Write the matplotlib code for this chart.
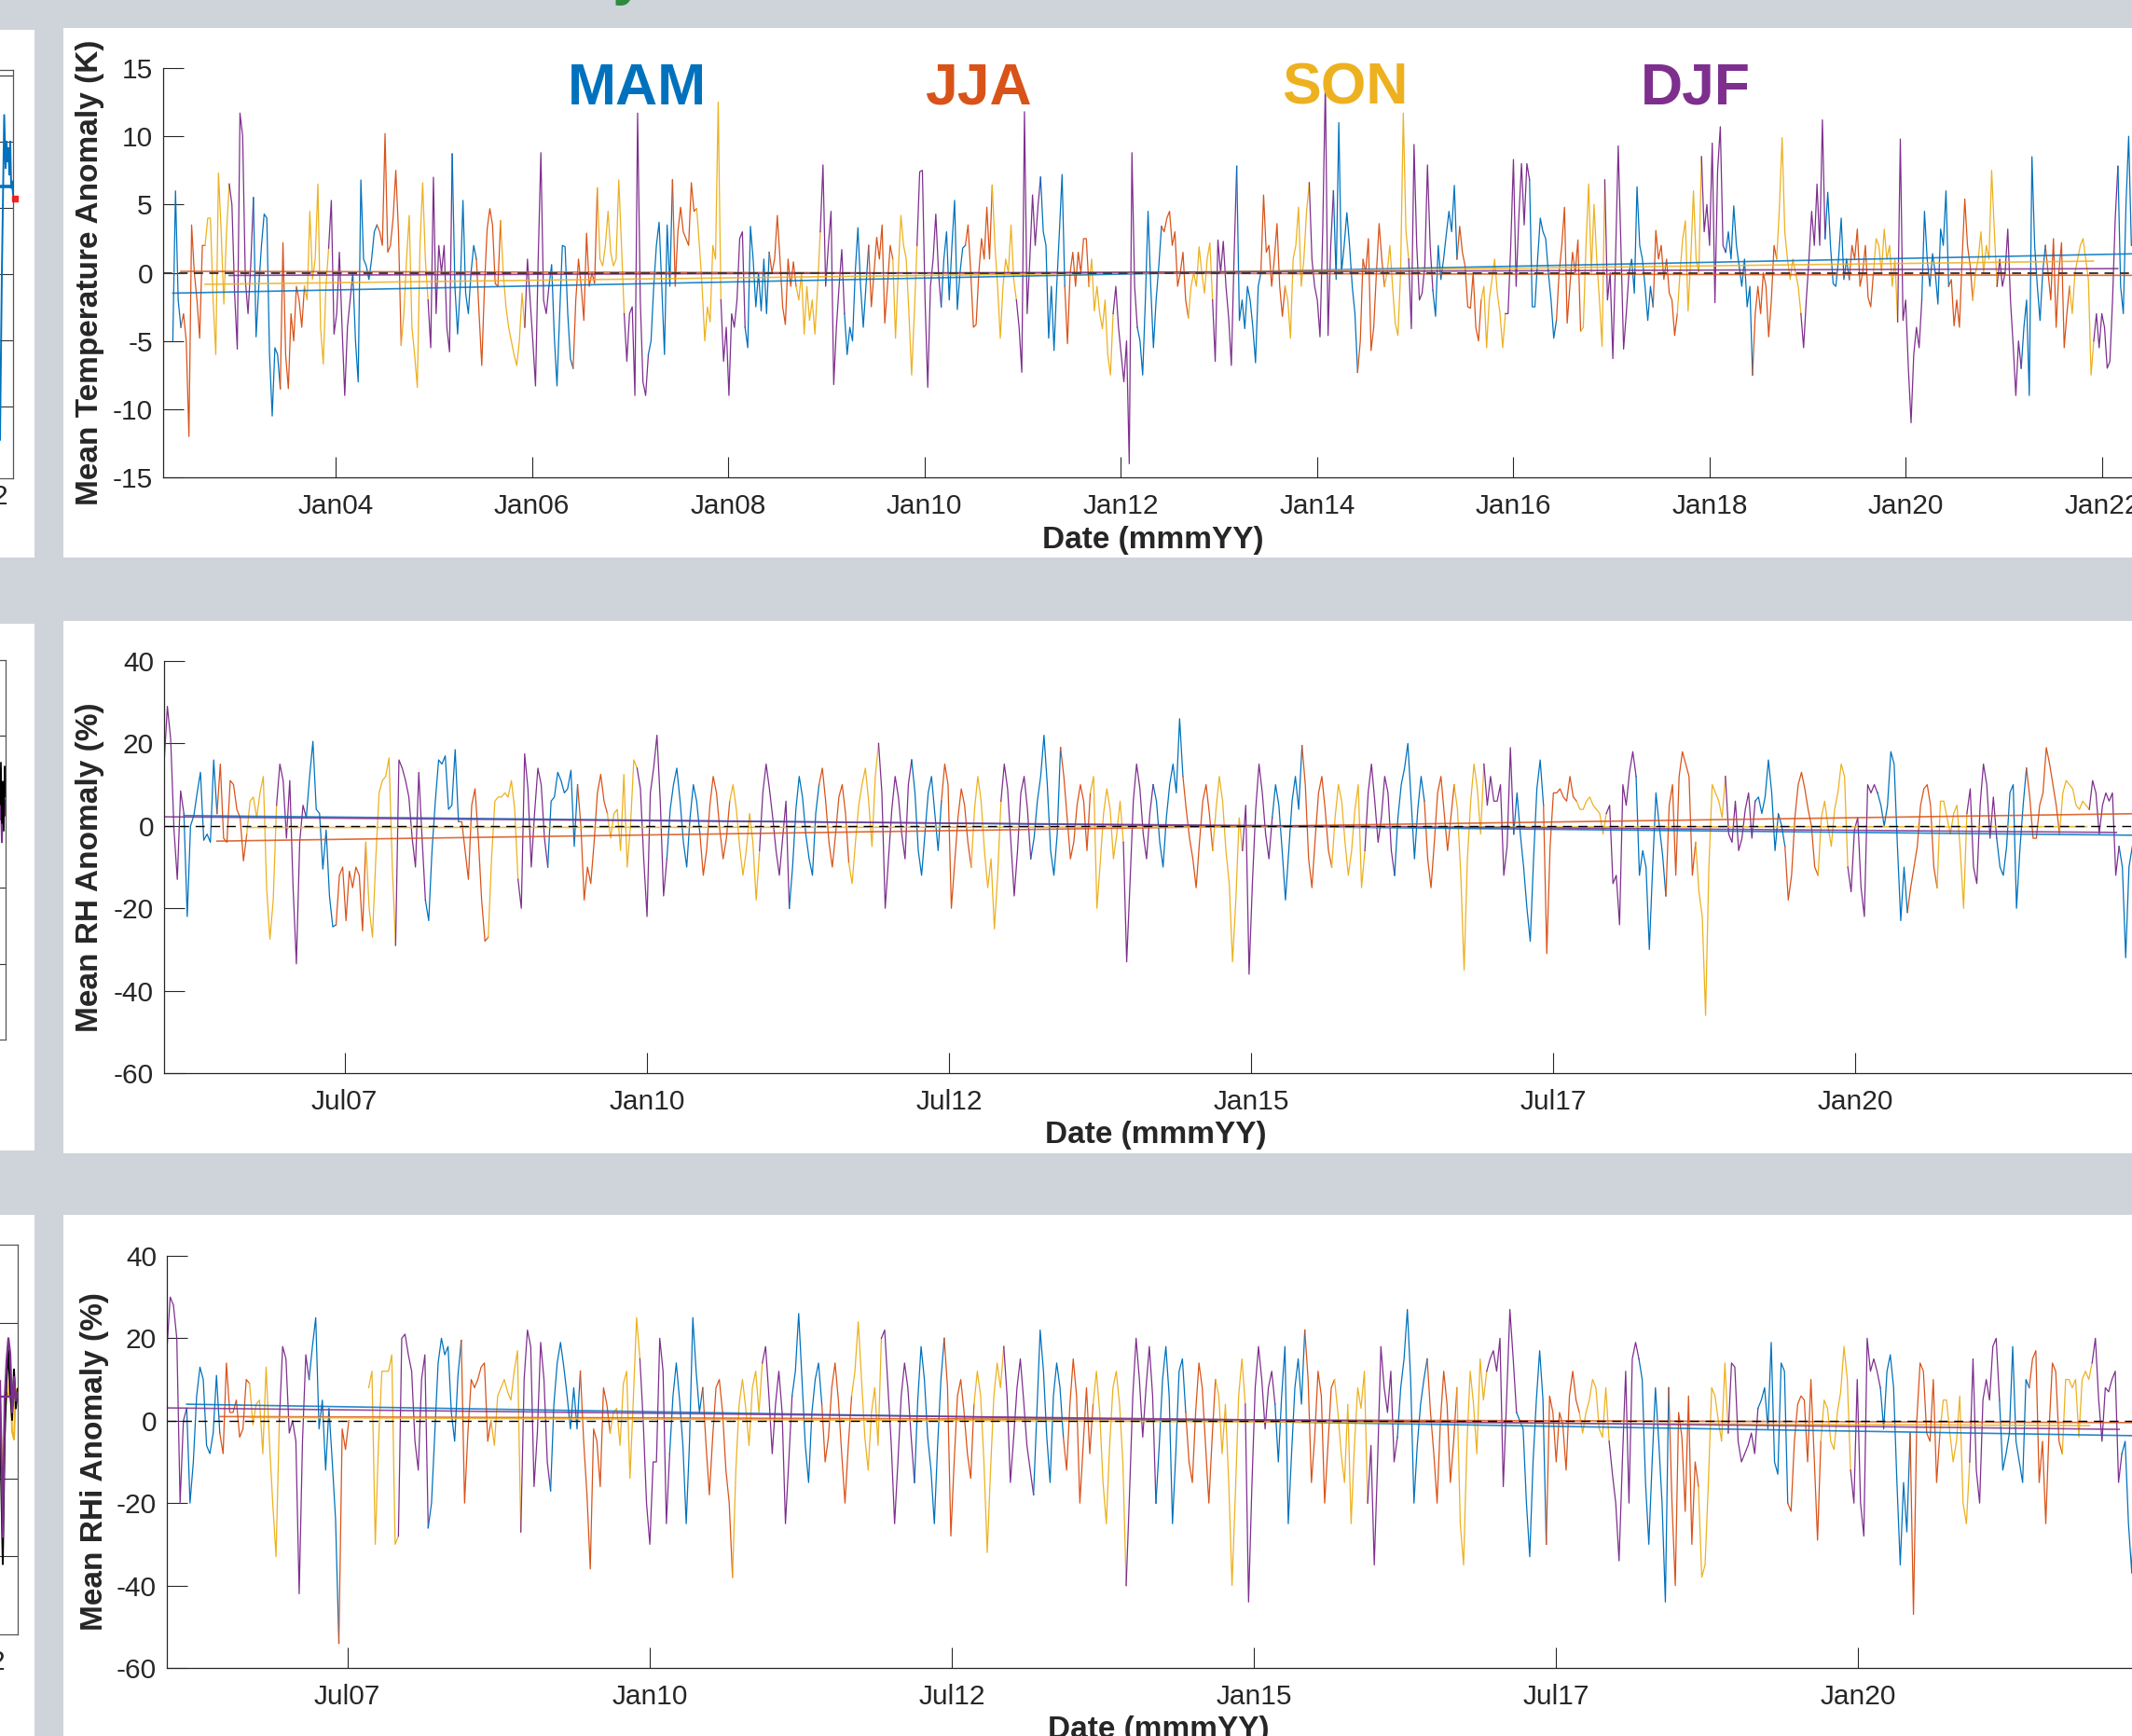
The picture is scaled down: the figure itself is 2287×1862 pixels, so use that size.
import numpy as np
import pandas as pd
import matplotlib
matplotlib.use('Agg')
import matplotlib.pyplot as plt
import matplotlib.dates as mdates
from matplotlib.patches import Rectangle

nan = np.nan

# ---------------- data (one value every 10 days) ----------------
season_names = ['MAM', 'JJA', 'SON', 'DJF']
season_colors = ['#0072BD', '#D95319', '#EDB120', '#7E2F8E']
season_of_month = {3: 0, 4: 0, 5: 0, 6: 1, 7: 1, 8: 1, 9: 2, 10: 2, 11: 2, 12: 3, 1: 3, 2: 3}

t_start = '2002-05-05'
t_anom = [
    -5, 6, -2, -4, -3, -5, -12, 3.5, 0, -2,
    -4.8, 2, 2, 4, 4, -2, -6, 7.3, 3, -2.3,
    3, 6.5, 5, -1.5, -5.6, 11.7, 10, -0.5, -3, 0.5,
    5.5, -4.7, -1, 2, 4.3, 4, -6, -10.5, -5.5, -6,
    -8.5, 2.2, -6, -8.5, -3, -5, -1, -2, -4, -1,
    -2, 4.5, -0.5, 1, 6.5, -4, -6.7, -1, 1.8, 5.3,
    -4.5, -3, 1.5, -4, -9, -4, -2, 0, -5, -8,
    6.8, 1, 0.5, -0.5, 1, 3, 3.5, 3, 2, 10.2,
    1.5, 2, 4, 7.5, 3, -5.3, -3, 1, 4.2, -4,
    -6, -8.4, 2, 6.6, 1, -2, -5.5, 7, -3, 2,
    0, 2, -4, -5.8, 8.7, -1, -4.5, -1, 5.3, -1.5,
    -3, 0, 2, 1, -3, -6.8, -1, 3.2, 4.7, 3.5,
    -0.8, -1, 3.8, 0, -2.5, -4, -5, -6, -6.8, -5,
    -1.5, -4, 1, -2, -5, -8.3, 1, 8.8, -2, -3,
    -1, 0.6, -4.7, -8.3, -3, 2, 1.9, -3, -6.3, -7,
    -2, 1, -1, -3.5, 2.9, -1, 0, -0.8, 6.2, 1,
    0.5, 2, 4.5, 1.5, 0.5, 1, 6.8, 2, -3, -6.5,
    -3, -2.5, -9, 11.7, -2, -8, -9, -6, -5, -1,
    2, 3.7, -1, -6, 3.5, -1, 6.8, -1, 3, 4.8,
    3, 2.5, 2, 6.6, 4.5, 4.7, 2, -1, -5, -2.5,
    -3.6, 2, 1, 12.5, -2, -6.5, -4, -9, -3, -4,
    -2, 2.5, 3, -4, -5.5, 3.4, 1, -2.5, 0, -2.8,
    1, -3, 1.5, 0, 1, 4.2, 1, -2.5, -3.8, 1,
    -1, 0.8, -1, -2, 0, -4.5, -1, -3.5, -2, -4.5,
    -1, 3, 7.9, -1, 2, 4.5, -8.2, -4, -1, 1.7,
    -3, -6, -4, -5, 0, 3.3, -1, -4, -1, 2,
    -2.5, 0, 2.6, 1, 3.5, -3.7, -1, 2, 1, -4.8,
    0, 4.2, 2, 1, -3, -7.5, -3, 2, 7.4, 7.5,
    -2, -8.4, -1, 1, 4.3, 0, -2.5, 1, 3, -2,
    2, 5.3, -2.7, 0, 1.8, 2, 3.5, 0, -4, -3.8,
    0, 2.5, 1, 4.8, 1, 6.4, 2, -1, -4.8, -1,
    1, 0, 3.5, -0.5, -2, -4, -7.3, 11.8, -3, 1,
    5.7, 2, 4.8, 7, 3, 2, -4.8, -1, -5.7, -1,
    3, 7.2, -1, -5.2, 0, 1.5, -1, 1.5, 0, 2.5,
    2.5, -1, 1, -2.8, -1, -3, -4.1, -2, -6, -7.5,
    -3, -1, -4, -6, -8, -5, -14, 8.8, -1, -4,
    -5, -7.5, -2, 4.5, -1, -5.5, -2, 0.5, 3.4, 3,
    4, 4.5, 2, 3, -1, 0, 1.5, -2, -3.3, -1,
    0, -1, 1.9, 0, -1.5, 1, 2.2, -2, -6.5, 2.4,
    0, 2.3, -1, -3.3, -6.8, 1, 7.8, -3.5, -2, -4.1,
    -1, -2, -4, -6.6, -1, 0, 5.7, 1.5, 2, -1,
    1, 3.6, -1, -3.2, -1, -2, -4.8, 1, 2, 4.8,
    -1, 1, 4.5, 6.6, 1, -1, -2, -4.7, 3, 14,
    -4.6, 2, 6, -0.5, 11, 0, 2, 4.4, 2, -1,
    -3, -7.3, -5, 1, 0, 2.5, -5.7, -4, 0, 3.6,
    1, -1, 0, 2, -1, -3.7, -4.6, 0, 11.7, 3,
    1, -4.1, 9.4, 2, -2, -1.5, 0.5, 7.9, 2, -1.3,
    -3.2, 2, -0.5, 1, 2.8, 4.5, 3, 6.4, 1, 3.4,
    1.5, 0.5, -2.5, -2.6, 0, -4, -5, -2, -1, -5.5,
    -2, -0.5, 1, -1.5, -3, -5.5, -3, -3, 2, 8.3,
    -1, 4, 8, 3.5, 8, 6.8, -2.5, -2.5, 1, 4,
    3, 2.5, 0, -2, -4.8, -3.5, 0, 2, 4.8, -3.7,
    -1, 1.5, 0, 2.4, -4.3, -4, 2, 6.5, 0, 5,
    1, -2, -5.4, 6.8, -2, 0, -6.3, 1, 9.3, 2,
    -5.6, -3, 0, 1, -1.5, 6.3, 2, 1, -1, -3.5,
    -1, -2.5, 3.1, 1, 2, -0.5, 1, -1.5, -2, -4.6,
    -3, 0, 2.5, 3.8, -2.8, 1, 6, 1, 0, 8.5,
    3, 5, 2, 9.5, -2.2, 7.5, 10.7, 2, 1.5, 3,
    1, 4.9, 2, 0.5, -1, 1, -2.5, -1, -7.5, -3,
    -1, -3, 0, -1, -4.7, -2, 2, 1, 4.8, 9.9,
    3, 1, -0.5, 1, 0, -1, -3, -5.5, -2, 1,
    4.5, 2, 6.5, 2, 11.2, 2.5, 5.9, 2, -0.8, -1,
    1, 4, -0.5, 1, -0.5, 2, 1, 3.2, -1, 0,
    2, -1.8, -2.5, 0, 2.5, 2, 0, 3.2, 1, 2,
    -1, 1, -3.6, 9.8, -3.5, -2, -7, -11, -6, -4,
    -5.5, -2, 4.5, 1, -1, 1.4, 0, -2.3, 3.2, 2,
    6, -1, -0.5, -3.9, -2, -4, 1, 5.4, 2, 0.5,
    -2, 0, 1, 3, 0, 2, 1, 7.5, 3, -1,
    1, -1, 0, 3.2, -2, -5.3, -9, -5, -7, -4,
    -2, -9, 8.5, 2, -1, -3.5, 0, 2, 0, -2,
    2.5, -4, 0, 2.2, -5.5, -3, -1, -3, 0, 1,
    2, 2.5, 1, -0.5, -7.5, -5, -3, -5.5, -3, -4,
    -7, -6.5, -2, 4, 7.8, -1, -3, 5, 10, 2,
]

rh_start = '2006-01-01'
rh_anom = [
    15, 29, 21, -1, -13, 8.5, 3, -22, 0, 2.5,
    8, 13, -3.5, -2, -4, 16, 3, 15, -3, -4,
    11, 10, 4, 2, -8.5, -2, 6, 7, 2, 8,
    12, -15, -27.5, -18, 5, 15, 11, -3, 11, -15,
    -33.5, -4, 5, 2, 12, 20.5, 4, 3, -10.5, -1,
    -17, -24.5, -24, -12, -10, -23, -11, -15, -10, -12,
    -25.5, -4, -20, -27, -8, 8, 11, 12, 16.5, -10,
    -29, 16, 14, 11, 7, -3, -10, 13, -3, -18,
    -23, -6, 6, 16, 15, 17, 4, 5, 18.5, 1,
    1, -6, -13, 5, 9, -3, -18, -28, -27, -8,
    6, 7, 7, 8, 7, 11, 4, -13, -20, 17.5,
    9, -10, 3, 14, 10, -3, -10, 6, 7, 13,
    11, 8, 9, 13.5, -5, 10, 0, -18, -10, -14,
    -4, 8, 12.5, 6, 3, -3, 3, 4, -6, 12.5,
    -10, 0, 16, 14, 9, -8, -22, 8,
    14, 22, 6, -17, -8, 4, 10, 14, 6, -4, -10, 2,
    10, 6, -2, -12, -6, 5, 12, 8, -1, -8,
    -3, 6, 10, 4, -5, -12, -6, 3, -4, -18,
    -6, 8, 15, 9, 2, -6, -12, -3, 6, -20,
    -10, 4, 12, 7, -2, -8, -12, 3, 10, 14,
    6, -4, -10, -2, 7, 10, 3, -9, -14, -4,
    5, 10, 14, 6, -5, 12, 20, 8, -20, -8,
    4, 12, 7, -2, -8, 10, 16, 8, -6, -12,
    -2, 8, 12, 3, -6, 6, 15, 10, -20, -9,
    2, 9, 5, -4, -10, 4, 12, 6, -6, -15,
    -8, -25, -12, 6, 15, 9, -4, -17, -6, 8,
    12, 4, -8, -3, 6, 12, 22, 10, -6, -12,
    -2, 19, 12, 2, -8, -4, 5, 10, 6, -6,
    8, 12, -20, -9, 3, 9, 4, -8, -2, 6,
    -4, -33, -14, 6, 15, 9, -2, -8, 3, 10,
    6, -4, -10, 2, 10, 15, 8, 26, 12, 4,
    -3, -8, -15, -4, 6, 10, 3, -6, 4, 12,
    6, -6, -14, -33, -18, 2, -6, 5, -36, -14,
    4, 15, 8, -2, -8, 2, 10, 5, -6, -18,
    -6, 6, 12, 4, 19.5, 10, -8, -15, -3, 8,
    12, 4, -6, -10, 2, 10, 6, -4, -12, -6,
    4, 10, -15, -6, 8, 15, 6, -4, 2, 12,
    8, -6, -12, 2, 10, 14, 20, 6, -8, 4,
    12, 6, -8, -15, -4, 8, 12, 3, -6, 2,
    10, 4, -12, -35, -8, 6, 15, 9, -2, 15,
    5, 12, 6, 6, 10, -12, -5, 19, -2, 8,
    -2, -10, -20, -28, -8, 9, 16, 5, -31, -5,
    8, 8, 9, 7, 6, 12, 7, 6, 4, 4,
    6, 7, 5, 4, 3, -2, 3, 5, -14, -12,
    -24, 10, 5, 13, 18, 12, -12, -6, -10, -30,
    -10, 8, 0, -7, -17, 5, 10, -12, 12, 18,
    15, 12, -12, -4, -16, -22, -46, -10, 10, 8,
    6, 2, 12, -2, -4, 6, -6, -3, 4, 8,
    -3, 6, 7, 3, 7, 16, 8, -6, 3, 0,
    -5, -18, -12, 2, 10, 13, 9, 4, 0, -10,
    -12, 2, 6, 0, -5, 4, 8, 15, 12, -10,
    -16, -1, 2, -15, -22, 10, 8, 10, 8, 5,
    0, 5, 18, 15, -5, -23, -10, -21, -15, -10,
    -5, 5, 9, 10, 5, -10, -15, 6, 6, 2,
    -2, 3, 5, -6, -20, 3, 9, -10, -14, 5,
    15, 10, -3, 7, -3, -10, -12, -5, 8, 10,
    -20, -6, 5, 14, 7, -3, -3, 5, 8, 19,
    15, 10, 5, -2, 8, 11, 10, 9, 5, 4,
    6, 5, 4, 11, 8, -2, 5, 8, 6, 8,
    -12, -5, -10, -32, -10, -5,
]

rhi_anom = [
    17, 30, 28, 20, -20, 0, 3, -20, -10, 6,
    13, 10, -6, -8, -3, 11, -3, -8, 14, 2,
    2, 5, -4, -2, 10, 9, -1, 4, 5, -8,
    13, -5, -20, -33, 0, 18, 15, -3, 0, -5,
    -42, -5, 16, 10, 18, 25, -2, 5, -12, 3,
    -10, -24, -54, -2, -7, 0, nan, nan, nan, nan,
    nan, 8, 12, -30, -5, 12, 12, 12, 16, -30,
    -28, 20, 21, 16, 12, -5, -12, 10, 16, -26,
    -20, -3, 14, 20, 16, 18, 2, -5, 11, 19.5,
    -20, -3, 10, 8, 10, 13, 14, -5, 0, -6,
    6, 8, 10, 7, 5, 12, 17, -27, 10, 22,
    18, -16, -3, 19, 10, -10, -17, 4, 14, 19,
    13, 6, -2, 8, -2, 12, -5, -18, -36, -2,
    -5, -16, 8, 4, -3, 2, 3, -6, 9, 12,
    -14, 5, 25, 15, 0, -20, -30, -10,
    -10, 20, 12, -25, -8, 6, 14, 5, -6, -25, -5, 25,
    12, 2, 8, -6, -18, -4, 8, 10, 2, -12,
    -20, -38, -12, 4, 10, 3, -6, 8, 12, 2,
    14, 18, 6, -8, 4, 12, 2, -25, -10, 6,
    12, 26, 10, -6, -15, 2, 10, 14, 4, -10,
    -4, 8, 14, 5, -8, -20, -6, 6, 12, 24,
    10, -4, -12, 2, 8, -6, 20, 22, 8, -6,
    -25, -10, 6, 14, 8, -4, -15, 5, 18, 10,
    -4, -12, -25, -6, 10, 20, 8, -28, -10, 6,
    10, 2, -8, -14, 4, 12, 6, -10, -32, -12,
    6, 14, 8, 18, 6, -15, -4, 8, 15, 5,
    -6, -12, -18, 2, 22, 12, -4, -15, 6, 14,
    8, -4, -12, 4, 15, 6, -20, -6, 8, -8,
    4, 12, 2, -15, -25, -6, 8, 12, 4, -10,
    -40, -18, 6, 20, 10, -4, 8, 18, 6, -20,
    -6, 10, 18, 6, -25, -8, 12, 15, 2, -10,
    -15, 2, 14, 8, -6, -20, -4, 10, 6, -8,
    4, -15, -40, -18, 6, 15, 4, -44, -16, 8,
    18, 10, -2, 8, 12, 4, -10, 6, 18, -25,
    -8, 8, 15, 4, 22, 10, -15, -4, 12, 6,
    -20, -6, 8, 10, 2, -8, -15, 4, -25, -6,
    8, 3, 12, -20, -6, -35, -10, 18, 8, 2,
    12, -10, -4, 8, 15, 27, 10, -20, -6, 4,
    10, 15, 2, -8, -20, 0, 12, 4, -15, -5,
    8, -25, -35, -6, 12, 4, -8, 15, 5, 12,
    15, 17, 12, 20, -16, 5, 27, 15, 2, 0,
    -2, -20, -33, -10, 5, 17, 5, -30, 6, 2,
    -10, 2, -1, -12, 6, 12, 5, 2, -3, 2,
    5, 10, 8, -2, -4, 8, -5, -13, -20, -34,
    -10, 12, -20, 15, 19, 15, 10, -15, -30, -10,
    8, -5, -20, -44, 8, -20, -40, 2, -4, -22,
    6, -30, -10, -16, -38, -35, -15, 8, 6, 0,
    -5, 14, -3, 14, 13, -5, -10, -8, -6, -3,
    -8, 3, 5, 8, -2, 19, -10, -13, 14, 12,
    -20, -22, -5, 4, 6, 5, -10, 10, -9, -29,
    -5, 5, 3, -5, -7, 2, 7, 18, 10, -12,
    -20, 10, -20, -28, 20, 12, 15, 12, 8, -2,
    12, 16, 8, -15, -35, -15, -27, -3, -47, 0,
    14, 12, -3, -5, 10, -15, -3, 5, 5, -3,
    -10, -5, 6, -20, -25, -10, 15, -12, -20, 5,
    10, 5, 18, 20, 5, -12, -8, -3, 18, -5,
    -10, -15, 10, 8, 15, 17, -15, -5, -25, -2,
    14, 12, -5, -8, 10, 10, 8, 10, -4, 10,
    12, 10, 14, 20, 5, -5, 8, 7, 10, 12,
    -15, -8, -5, -25, -37, -10,
]

# seasonal trend lines (value at start / end), order MAM, JJA, SON, DJF
t_trend_start = [-1.5, 0.1, -0.85, -0.2]
t_trend_end = [1.4, -0.2, 0.85, 0.3]
rh_trend_start = [2.5, -3.7, -0.4, 2.2]
rh_trend_end = [-2.3, 3.1, -0.2, -1.6]
rhi_trend_start = [4.0, 1.0, 0.8, 3.1]
rhi_trend_end = [-3.7, -0.5, -1.2, -2.1]
trend_end_dates = ['2022-05-31', '2022-08-31', '2021-11-30', '2022-02-28']

rh_tick_dates = ['2007-07-01', '2010-01-01', '2012-07-01', '2015-01-01', '2017-07-01', '2020-01-01']

# ---------------- figure ----------------
plt.rcParams['font.family'] = ['Liberation Sans', 'DejaVu Sans']
plt.rcParams['axes.unicode_minus'] = False
W, H = 2287, 1862
fig = plt.figure(figsize=(W / 100, H / 100), dpi=100)
fig.patch.set_facecolor('#ced4d9')
INK = '#262626'


def frac(x0, y0, x1, y1):
    return [x0 / W, 1 - y1 / H, (x1 - x0) / W, (y1 - y0) / H]


# white panels of the screenshot
for x0, y0, x1, y1 in [(68, 30, 2300, 598), (68, 666, 2300, 1237), (68, 1303, 2300, 1870),
                       (-5, 32, 37, 598), (-5, 669, 37, 1234), (-5, 1303, 37, 1870)]:
    l, b, w, h = frac(x0, y0, x1, y1)
    fig.patches.append(Rectangle((l, b), w, h, transform=fig.transFigure,
                                 facecolor='white', edgecolor='none', zorder=-5))


def draw_panel(ax, start, vals, tr0, tr1, zero_style):
    dates = pd.date_range(start, periods=len(vals), freq='10D')
    v = np.array(vals, dtype=float)
    s = np.array([season_of_month[m] for m in dates.month])
    cuts = np.flatnonzero(np.diff(s)) + 1
    for a, b in zip(np.r_[0, cuts], np.r_[cuts, len(v)]):
        bb = min(b + 1, len(v))
        ax.plot(dates[a:bb], v[a:bb], color=season_colors[s[a]], lw=0.9)
    for k in range(4):
        first = dates[np.flatnonzero(s == k)[0]]
        ax.plot([first, pd.Timestamp(trend_end_dates[k])], [tr0[k], tr1[k]],
                color=season_colors[k], lw=1.2, alpha=0.85)
    ax.axhline(0, **zero_style)


def style(ax, ylim, yticks, ylabel, ylab_x, xlab_y):
    ax.set_ylim(*ylim)
    ax.set_yticks(yticks)
    ax.patch.set_visible(False)
    for sp in ['top', 'right']:
        ax.spines[sp].set_visible(False)
    for sp in ['left', 'bottom']:
        ax.spines[sp].set_color(INK)
        ax.spines[sp].set_linewidth(0.9)
    ax.tick_params(direction='in', length=15.8, width=0.8, color=INK,
                   labelsize=21.5, labelcolor=INK)
    ax.tick_params(axis='x', pad=12)
    ax.tick_params(axis='y', pad=8)
    ax.set_ylabel(ylabel, fontsize=24, fontweight='bold', color=INK)
    ax.yaxis.set_label_coords(ylab_x, 0.5)
    ax.set_xlabel('Date (mmmYY)', fontsize=24, fontweight='bold', color=INK)
    ax.xaxis.set_label_coords(0.5, xlab_y)


# panel 1: temperature
ax1 = fig.add_axes(frac(175, 73, 2299, 512))
draw_panel(ax1, t_start, t_anom, t_trend_start, t_trend_end,
           dict(color='#3a3a3a', lw=1.4, ls=(0, (5, 3.5))))
ax1.set_xlim(pd.Timestamp('2002-03-30'), pd.Timestamp('2022-06-03'))
ax1.xaxis.set_major_locator(mdates.YearLocator(2))
ax1.xaxis.set_major_formatter(mdates.DateFormatter('%b%y'))
style(ax1, (-15, 15), np.arange(-15, 16, 5), 'Mean Temperature Anomaly (K)', -0.0297, -0.118)

# panel 2: RH
ax2 = fig.add_axes(frac(176, 709, 2304, 1151))
draw_panel(ax2, rh_start, rh_anom, rh_trend_start, rh_trend_end,
           dict(color='black', lw=1.0, ls=(0, (7, 5))))
ax2.set_xlim(pd.Timestamp('2006-01-01'), pd.Timestamp('2022-06-03'))
ax2.set_xticks(pd.to_datetime(rh_tick_dates))
ax2.xaxis.set_major_formatter(mdates.DateFormatter('%b%y'))
style(ax2, (-60, 40), np.arange(-60, 41, 20), 'Mean RH Anomaly (%)', -0.0303, -0.115)

# panel 3: RHi
ax3 = fig.add_axes(frac(179, 1347, 2307, 1789))
draw_panel(ax3, rh_start, rhi_anom, rhi_trend_start, rhi_trend_end,
           dict(color='black', lw=1.0, ls=(0, (7, 5))))
ax3.set_xlim(pd.Timestamp('2006-01-01'), pd.Timestamp('2022-06-03'))
ax3.set_xticks(pd.to_datetime(rh_tick_dates))
ax3.xaxis.set_major_formatter(mdates.DateFormatter('%b%y'))
style(ax3, (-60, 40), np.arange(-60, 41, 20), 'Mean RHi Anomaly (%)', -0.0291, -0.115)

# season labels
for name, col, xc in zip(season_names, season_colors, [683, 1049, 1443, 1819]):
    fig.text(xc / W, 1 - 112 / H, name, color=col, fontsize=45, fontweight='bold',
             ha='center', va='baseline')

# green title cut off at the top edge
fig.text(692 / W, 1 + 7 / H, 'Anomaly', color='#2e8b3e', fontsize=45, fontweight='bold',
         ha='right', va='baseline')

# ---------------- cut-off panels on the left edge ----------------
left1_x = [86, 88, 90.5, 92, 93, 94, 95, 96, 97, 98, 99, 100]
left1_y = [-0.5, 2.0, 4.4, 3.6, 4.0, 3.7, 3.9, 3.5, 4.0, 3.3, 3.4, 3.2]
left2_x = [94, 95, 96, 97, 98, 99, 100]
left2_black = [2, 13, -3, 8, -5, 12, 4]
left2_purple = [-2, 5, -8, 3, 6, -1, 3]
left2_yellow = [0, 3, 1, 4, -1, 2, 0]
left3_x = [81, 83, 84, 86, 88, 90, 92, 94, 96, 98, 100]
left3_black = [-5, -30, -42, -10, 5, 13, 2, -5, 8, -2, 3]
left3_purple = [5, -20, -35, 0, 10, 16, 12, -3, 6, 0, 2]
left3_yellow = [0, -15, -25, -5, 2, 1, 8, -8, -10, 3, 1]


def left_axes(rect, ylim, grid):
    ax = fig.add_axes(frac(*rect))
    ax.set_xlim(0, 100)
    ax.set_ylim(*ylim)
    ax.set_xticks([])
    ax.set_yticks([])
    ax.patch.set_visible(False)
    for sp in ax.spines.values():
        sp.set_color('#555555')
        sp.set_linewidth(0.9)
    for g in grid:
        ax.axhline(g, color='#333333', lw=0.8)
    return ax


la1 = left_axes((-86, 75, 14, 513), (-1.08, 5.08), [0, 1, 2, 3, 4, 5])
la1.plot(left1_x, left1_y, color='#0072BD', lw=1.4)
la1.plot([86, 99], [3.32, 3.32], color='#0072BD', lw=2.6)
la1.plot([102], [3.14], marker='s', ms=5, color='#ff2020', clip_on=False)

la2 = left_axes((-94, 708, 6, 1115), (-60, 40), [-40, -20, 20])
la2.plot(left2_x, left2_yellow, color='#EDB120', lw=1.4)
la2.plot(left2_x, left2_purple, color='#7E2F8E', lw=1.4)
la2.plot(left2_x, left2_black, color='black', lw=1.2)

la3 = left_axes((-81, 1335, 19, 1753), (-60, 40), [-40, -20, 20])
la3.plot(left3_x, left3_yellow, color='#EDB120', lw=1.4)
la3.plot(left3_x, left3_black, color='black', lw=1.4)
la3.plot(left3_x, left3_purple, color='#7E2F8E', lw=1.6)
la3.plot([81, 100], [1, 1], color='#7E2F8E', lw=1.6)

for yc, xr in [(533, 8), (1783, 5)]:
    fig.text(xr / W, 1 - yc / H, '2', fontsize=21.5, color=INK, ha='right', va='center')

fig.savefig('out.png', dpi=100, facecolor=fig.get_facecolor())
